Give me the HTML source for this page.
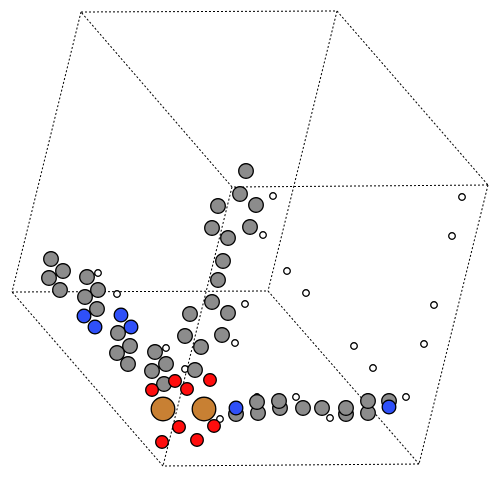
<!DOCTYPE html>
<html><head><meta charset="utf-8"><style>html,body{margin:0;padding:0;background:#fff}svg{display:block}</style></head>
<body>
<svg id="cell" width="500" height="478" viewBox="0 0 500 478" xmlns="http://www.w3.org/2000/svg">
<g id="edges" stroke="#000" stroke-width="1" stroke-dasharray="2,2" fill="none"></g>
<g id="atoms" stroke="#000" stroke-width="1.3"></g>
</svg>
<script>
const vertices = {A:[81,12],B:[337,11],C:[488,185],D:[232,187],E:[12,292],F:[268,291],G:[419,464],H:[163,466]};
const edgeList = [["A","B"],["B","C"],["C","D"],["D","A"],["E","F"],["F","G"],["G","H"],["H","E"],["A","E"],["B","F"],["C","G"],["D","H"]];
const whiteAtoms = [[98,273],[117,294],[273,196],[263,235],[462,197],[452,236],[287,271],[306,293],[245,304],[235,343],[434,305],[424,344],[354,346],[373,368],[166,348],[185,369],[220,419],[257,397],[296,397],[330,418],[368,397],[406,397]];
const grayAtoms = [[51,259],[63,271],[49,278],[60,290],[87,277],[98,290],[85,297],[97,309],[246,171],[240,194],[218,206],[256,205],[212,228],[228,238],[250,227],[223,261],[218,280],[212,302],[228,313],[190,314],[222,335],[185,336],[201,347],[118,333],[130,346],[117,353],[128,364],[155,352],[166,364],[152,371],[195,370],[164,384],[236,414],[258,413],[257,402],[280,408],[279,401],[303,408],[322,408],[346,414],[346,408],[368,413],[368,401],[389,401]];
const blueAtoms = [[84,316],[95,327],[121,315],[131,327],[236,408],[389,407]];
const redAtoms = [[175,381],[152,390],[187,389],[210,380],[179,427],[214,426],[162,442],[197,440]];
const copperAtoms = [[163,409],[204,409]];
const NS="http://www.w3.org/2000/svg";
const eg=document.getElementById('edges');
edgeList.forEach(e=>{
  const l=document.createElementNS(NS,'line');
  const p=vertices[e[0]],q=vertices[e[1]];
  l.setAttribute('x1',p[0]);l.setAttribute('y1',p[1]);l.setAttribute('x2',q[0]);l.setAttribute('y2',q[1]);
  
  
  eg.appendChild(l);
});
const ag=document.getElementById('atoms');
function draw(list,r,fill,name){
  list.forEach(a=>{
    const c=document.createElementNS(NS,'circle');
    c.setAttribute('cx',a[0]);c.setAttribute('cy',a[1]);c.setAttribute('r',r);c.setAttribute('fill',fill);
    
    
    ag.appendChild(c);
  });
}
draw(whiteAtoms,3.3,'#fff','hydrogen-atom');
draw(grayAtoms,7.3,'#8c8c8c','carbon-atom');
draw(blueAtoms,6.8,'#2f50f8','nitrogen-atom');
draw(redAtoms,6.3,'#ff0d0d','oxygen-atom');
draw(copperAtoms,11.8,'#c88033','copper-atom');
</script>
</body></html>
